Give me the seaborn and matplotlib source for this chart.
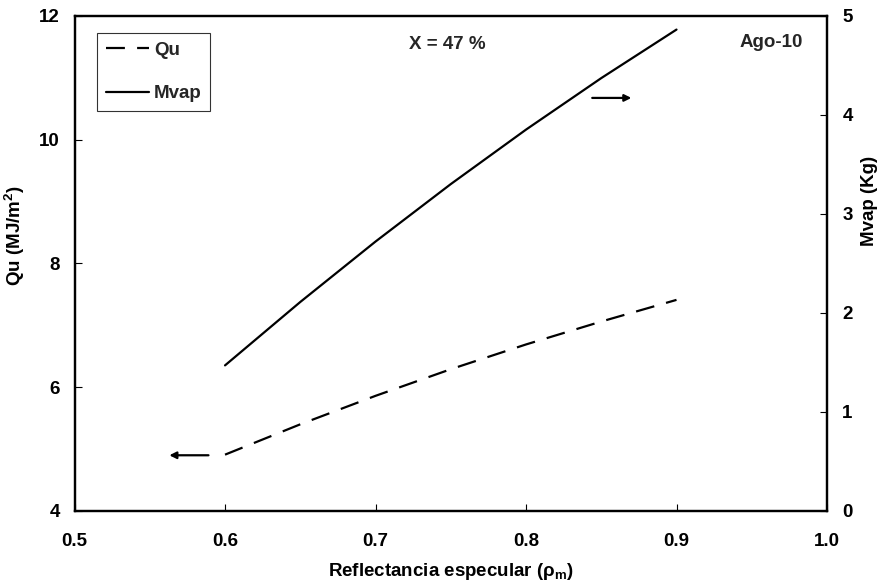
import matplotlib
matplotlib.use("Agg")
import matplotlib.pyplot as plt
import seaborn as sns
import pandas as pd

reflectancia = [0.60, 0.65, 0.70, 0.75, 0.80, 0.85, 0.90]
qu = [4.91, 5.40, 5.86, 6.29, 6.69, 7.06, 7.41]
mvap = [1.47, 2.11, 2.72, 3.30, 3.85, 4.37, 4.86]

x_ticks = [0.5, 0.6, 0.7, 0.8, 0.9, 1.0]
x_tick_labels = ["0.5", "0.6", "0.7", "0.8", "0.9", "1.0"]
qu_ticks = [4, 6, 8, 10, 12]
mvap_ticks = [0, 1, 2, 3, 4, 5]

sns.set_theme(style="white")
plt.rcParams['font.family'] = ['Liberation Sans', 'DejaVu Sans']
plt.rcParams['font.weight'] = 'bold'
plt.rcParams['mathtext.fontset'] = 'custom'
plt.rcParams['mathtext.rm'] = 'Liberation Sans:bold'
plt.rcParams['mathtext.it'] = 'Liberation Sans:bold'
plt.rcParams['mathtext.bf'] = 'Liberation Sans:bold'

FS = 13.5

df = pd.DataFrame({"x": reflectancia, "Qu": qu, "Mvap": mvap})

fig = plt.figure(figsize=(8.81, 5.86), dpi=100)
ax = fig.add_axes([0.0846, 0.128, 0.9387 - 0.0846, 0.9732 - 0.128])
ax2 = ax.twinx()

sns.lineplot(data=df, x="x", y="Qu", ax=ax, color="black", linewidth=1.6,
             linestyle=(0, (8.5, 5.5)), label="Qu", legend=False)
sns.lineplot(data=df, x="x", y="Mvap", ax=ax2, color="black", linewidth=1.6,
             label="Mvap", legend=False)

ax.set_xlim(0.5, 1.0)
ax.set_ylim(4, 12)
ax2.set_ylim(0, 5)
ax.set_xticks(x_ticks)
ax.set_xticklabels(x_tick_labels)
ax.set_yticks(qu_ticks)
ax2.set_yticks(mvap_ticks)

for a in (ax, ax2):
    for s in a.spines.values():
        s.set_linewidth(1.6)
        s.set_color("black")
    a.grid(False)

ax.tick_params(axis="x", direction="in", length=5, width=0.8, pad=16,
               labelsize=FS, colors="black", top=False, bottom=True)
ax.tick_params(axis="y", direction="in", length=5, width=0.8, pad=10.5,
               labelsize=FS, colors="black", left=True, right=False)
ax2.tick_params(axis="y", direction="in", length=5, width=0.8, pad=11,
                labelsize=FS, colors="black", right=True, left=False)
for lab in ax.get_xticklabels() + ax.get_yticklabels() + ax2.get_yticklabels():
    lab.set_fontweight("bold")

ax.set_xlabel(r"Reflectancia especular ($\rho_{\mathrm{m}}$)", fontsize=FS,
              fontweight="bold", color="black")
ax.xaxis.set_label_coords(0.5003, -0.101)
ax.set_ylabel(r"Qu (MJ/m$^2$)", fontsize=FS, fontweight="bold", color="black")
ax.yaxis.label.set_verticalalignment("center")
ax.yaxis.set_label_coords(-0.079, 0.555)
ax2.set_ylabel("Mvap (Kg)", fontsize=FS, fontweight="bold", color="black")
ax2.yaxis.label.set_verticalalignment("center")
ax2.yaxis.set_label_coords(1.056, 0.626)

ax.text(0.4957, 0.941, "X = 47 %", fontsize=FS, fontweight="bold",
        ha="center", va="center", transform=ax.transAxes)
ax.text(0.9256, 0.945, "Ago-10", fontsize=FS, fontweight="bold",
        ha="center", va="center", transform=ax.transAxes)

ax.annotate("", xy=(0.563, 4.9), xytext=(0.589, 4.9),
            arrowprops=dict(arrowstyle="-|>", color="black", lw=1.6,
                            mutation_scale=10, shrinkA=0, shrinkB=0))
ax2.annotate("", xy=(0.870, 4.17), xytext=(0.844, 4.17),
             arrowprops=dict(arrowstyle="-|>", color="black", lw=1.6,
                             mutation_scale=10, shrinkA=0, shrinkB=0))

h1, l1 = ax.get_legend_handles_labels()
h2, l2 = ax2.get_legend_handles_labels()
leg = ax2.legend(h1 + h2, l1 + l2, loc="upper left",
                 bbox_to_anchor=(0.0303, 0.9645), frameon=True, fancybox=False,
                 edgecolor="black", fontsize=FS, handlelength=2.3,
                 handletextpad=0.27, labelspacing=1.4, borderpad=0.45,
                 borderaxespad=0)
leg.get_frame().set_linewidth(0.8)
for t in leg.get_texts():
    t.set_fontweight("bold")

fig.savefig("out.png", dpi=100)
